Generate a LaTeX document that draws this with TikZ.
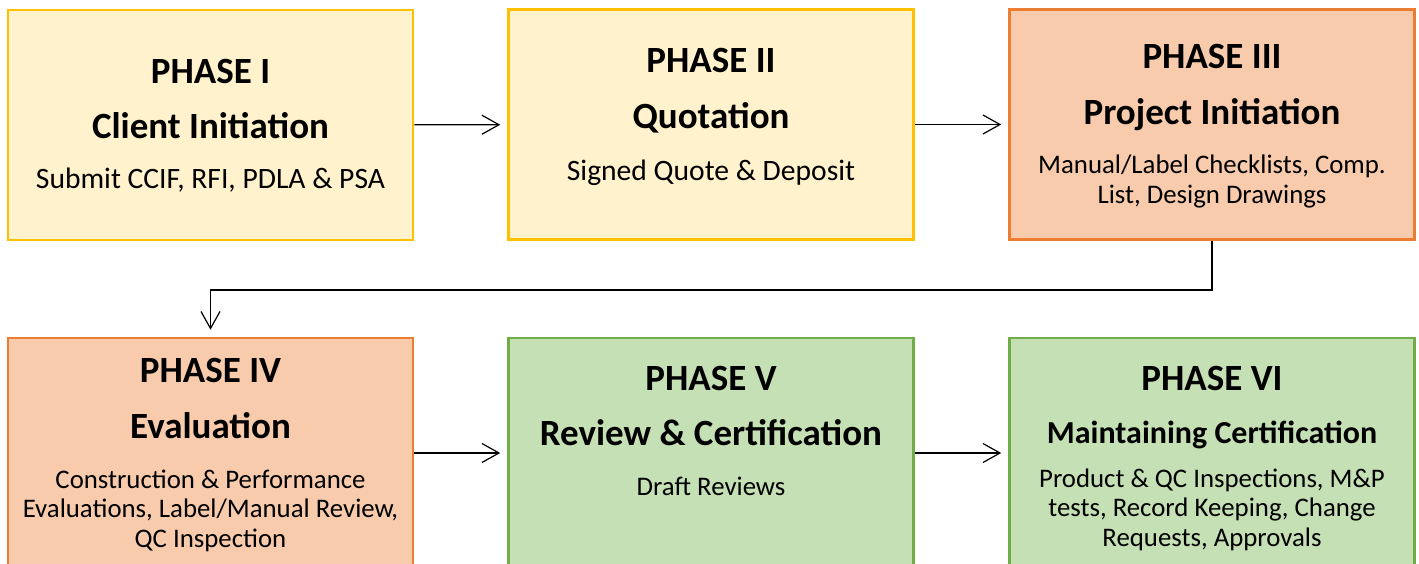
\documentclass[tikz,border=0pt]{standalone}
\usepackage{fontspec}
\setmainfont{Carlito}
\usetikzlibrary{arrows.meta}

\definecolor{yellowfill}{HTML}{FFF2CC}
\definecolor{yellowline}{HTML}{FFC000}
\definecolor{orangefill}{HTML}{F8CBAD}
\definecolor{orangeline}{HTML}{ED7D31}
\definecolor{greenfill}{HTML}{C5E0B4}
\definecolor{greenline}{HTML}{70AD47}

\tikzset{
  phasebox/.style={draw, line width=1.3pt, minimum width=202.5pt, minimum height=115pt, inner sep=0pt},
  yellowbox/.style={phasebox, fill=yellowfill, draw=yellowline},
  orangebox/.style={phasebox, fill=orangefill, draw=orangeline},
  greenbox/.style={phasebox, fill=greenfill, draw=greenline},
  phasehead/.style={anchor=base, inner sep=0pt, font=\bfseries\fontsize{18.5}{22}\selectfont},
  phasename/.style={anchor=base, inner sep=0pt, font=\bfseries\fontsize{18.5}{22}\selectfont},
  phasenote/.style={anchor=base, inner sep=0pt, align=center, font=\fontsize{14.8}{14.7}\selectfont},
  longnote/.style={phasenote, font=\fontsize{13.4}{14.7}\selectfont},
  flow/.style={line width=0.6pt, -{Straight Barb[length=8.5pt, width=9.5pt]}, shorten >=3.5pt}
}

\begin{document}
\begin{tikzpicture}[x=0.5pt, y=-0.5pt]
  \clip (0,0) rectangle (1419,563);
  % boxes
  \node[yellowbox] (p1) at (210.5,125) {};
  \node[yellowbox] (p2) at (711,124.5) {};
  \node[orangebox] (p3) at (1212,124.5) {};
  \node[orangebox] (p4) at (210.5,453) {};
  \node[greenbox] (p5) at (711,453) {};
  \node[greenbox] (p6) at (1212,453) {};
  % texts (base of a note is its last line)
  \node[phasehead] (h1) at (210.5,83) {PHASE I};
  \node[phasename] (n1) at (210.5,138) {Client Initiation};
  \node[phasenote] (d1) at (210.5,188) {Submit CCIF, RFI, PDLA \& PSA};
  \node[phasehead] (h2) at (711,72) {PHASE II};
  \node[phasename] (n2) at (711,128) {Quotation};
  \node[phasenote] (d2) at (711,180) {Signed Quote \& Deposit};
  \node[phasehead] (h3) at (1212,68) {PHASE III};
  \node[phasename] (n3) at (1212,124) {Project Initiation};
  \node[longnote] (d3) at (1212,203) {Manual/Label Checklists, Comp.\\List, Design Drawings};
  \node[phasehead] (h4) at (210.5,382) {PHASE IV};
  \node[phasename] (n4) at (210.5,438) {Evaluation};
  \node[longnote] (d4) at (210.5,547) {Construction \& Performance\\Evaluations, Label/Manual Review,\\QC Inspection};
  \node[phasehead] (h5) at (711,390) {PHASE V};
  \node[phasename] (n5) at (711,445) {Review \& Certification};
  \node[longnote] (d5) at (711,495) {Draft Reviews};
  \node[phasehead] (h6) at (1212,390) {PHASE VI};
  \node[phasename, font=\bfseries\fontsize{16}{20}\selectfont] (n6) at (1212,443) {Maintaining Certification};
  \node[longnote] (d6) at (1212,546) {Product \& QC Inspections, M\&P\\tests, Record Keeping, Change\\Requests, Approvals};
  % connectors
  \coordinate (bend) at (210.5,290);
  \draw[flow] (p1) -- (p2);
  \draw[flow] (p2) -- (p3);
  \draw[flow] (p3.south) |- (bend) -- (p4.north);
  \draw[flow] (p4) -- (p5);
  \draw[flow] (p5) -- (p6);
\end{tikzpicture}
\end{document}
